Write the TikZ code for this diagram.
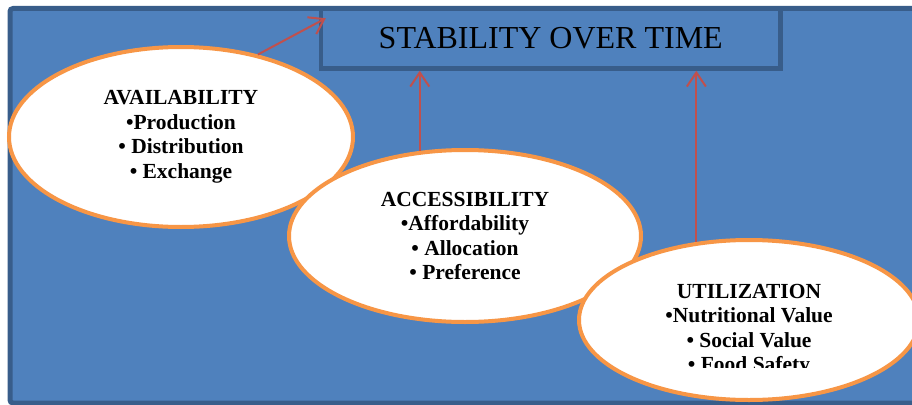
\documentclass[tikz,border=0pt]{standalone}
\usepackage{fontspec}
\setmainfont{Liberation Serif}
\usetikzlibrary{shapes.geometric,arrows.meta,calc}

\definecolor{panelblue}{HTML}{4F81BD}
\definecolor{paneledge}{HTML}{385D8A}
\definecolor{bubbleedge}{HTML}{F79646}
\definecolor{arrowred}{HTML}{C0504D}

\tikzset{
  panel/.style={fill=panelblue, draw=paneledge, line width=5pt},
  titlebox/.style={fill=panelblue, draw=paneledge, line width=4.5pt,
    rectangle, inner sep=0pt, font=\fontsize{32}{36}\selectfont},
  bubble/.style={ellipse, fill=white, draw=bubbleedge, line width=4pt, inner sep=0pt},
  bubbletext/.style={align=center, inner sep=0pt,
    font=\bfseries\fontsize{21.5}{24.5}\selectfont},
  linkarrow/.style={draw=arrowred, line width=2pt,
    -{Straight Barb[length=14pt,width=19pt,line width=2pt]}},
}

\begin{document}
\begin{tikzpicture}[x=1pt,y=-1pt]
\useasboundingbox (0,0) rectangle (912,404);
\clip (0,0) rectangle (912,404);

% background panel
\draw[panel, rounded corners=3pt] (10,8.5) rectangle (930,403);

% heading box
\node[titlebox, minimum width=459.5pt, minimum height=60pt] (title) at (550.75,38.5) {STABILITY OVER TIME};

% the three pillars, each overlapping the previous one
\node[bubble, minimum width=344pt, minimum height=180pt] (avail) at (181,137) {};
\node[bubbletext] (availtxt) at (181,137) {AVAILABILITY\\\textbullet Production\\\textbullet{} Distribution\\\textbullet{} Exchange};

\node[bubble, minimum width=352pt, minimum height=172pt] (access) at (465,236) {};
\node[bubbletext] (accesstxt) at (465,236) {ACCESSIBILITY\\\textbullet Affordability\\\textbullet{} Allocation\\\textbullet{} Preference};

\node[bubble, minimum width=340pt, minimum height=160pt] (util) at (749,320) {};
\begin{scope}
  \clip (580,250) rectangle (912,367);
  \node[bubbletext] (utiltxt) at (749,330) {UTILIZATION\\\textbullet Nutritional Value\\\textbullet{} Social Value\\\textbullet{} Food Safety};
\end{scope}

% links to the heading
\coordinate (titlecorner) at ($(title.north west)+(7,12)$);
\draw[linkarrow] (avail.47) -- (titlecorner);
\draw[linkarrow] (access.118) -- (access.118 |- title.south);
\draw[linkarrow] (util.124) -- (util.124 |- title.south);
\end{tikzpicture}
\end{document}
